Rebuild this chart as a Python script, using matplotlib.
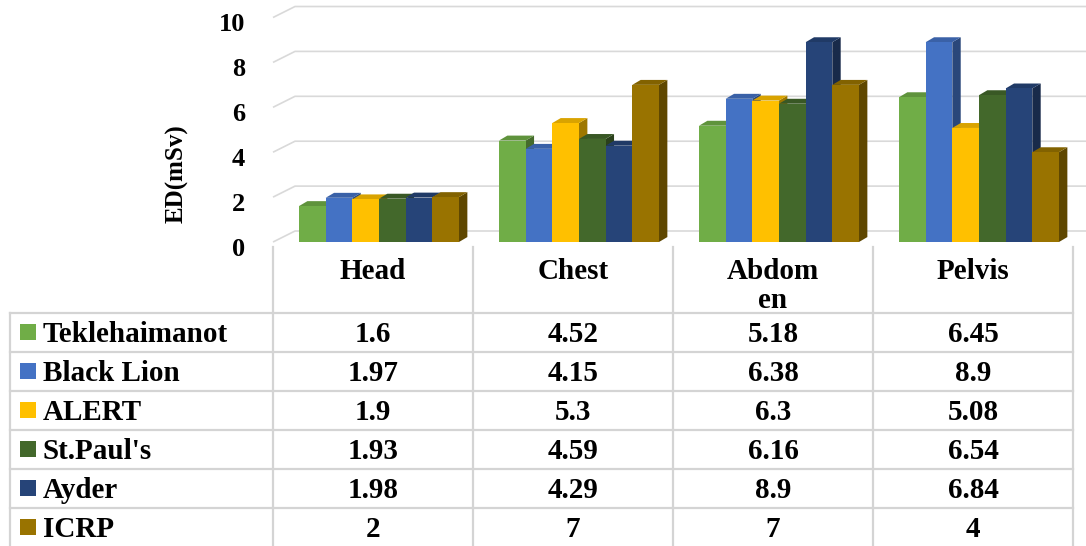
import matplotlib.pyplot as plt
from matplotlib.patches import Polygon, Rectangle
import matplotlib.colors as mcolors

categories = ["Head", "Chest", "Abdom\nen", "Pelvis"]
series = ["Teklehaimanot", "Black Lion", "ALERT", "St.Paul's", "Ayder", "ICRP"]
teklehaimanot = [1.6, 4.52, 5.18, 6.45]
black_lion = [1.97, 4.15, 6.38, 8.9]
alert = [1.9, 5.3, 6.3, 5.08]
st_pauls = [1.93, 4.59, 6.16, 6.54]
ayder = [1.98, 4.29, 8.9, 6.84]
icrp = [2, 7, 7, 4]
values = [teklehaimanot, black_lion, alert, st_pauls, ayder, icrp]
y_ticks = [0, 2, 4, 6, 8, 10]

colors = ["#70AD47", "#4472C4", "#FFC000", "#43682B", "#264478", "#997300"]

FONT = ["Liberation Serif", "DejaVu Serif"]


def shade(c, f):
    r, g, b = mcolors.to_rgb(c)
    return (r * f, g * f, b * f)


fig = plt.figure(figsize=(10.86, 5.46), dpi=100)

# chart axes: x in category units, y in value units (front plane)
ax = fig.add_axes([0, 0, 1, 1])
ax.set_xlim(-1.365, 4.065)
ax.set_ylim(-13.541, 10.78)
ax.axis("off")

# table axes: same x, y in row units (downwards)
tax = fig.add_axes([0, 0, 1, 1], sharex=ax)
tax.set_ylim(5.974, -8.026)
tax.axis("off")
tax.patch.set_alpha(0)

# side wall / back wall gridlines
wall_dx, wall_dy = 0.11, 0.49
grid_c = "#D9D9D9"
for v in y_ticks:
    ax.plot([0, wall_dx, 4.065], [v, v + wall_dy, v + wall_dy],
            color=grid_c, lw=1.2, zorder=1, solid_capstyle="butt")
    ax.text(-0.14, v - 0.62, str(v), ha="right", va="baseline",
            fontsize=19, fontweight="bold", family=FONT)

ax.text(-0.48, 3.03, "ED(mSv)", rotation=90, ha="center", va="center",
        fontsize=18, fontweight="bold", family=FONT)

# 3D-style clustered columns
bar_w = 0.1333
start = 0.13
bdx, bdy = 0.042, 0.22
for ci in range(len(categories)):
    for si, vals in enumerate(values):
        v = vals[ci]
        x0 = ci + start + si * bar_w
        x1 = x0 + bar_w
        c = colors[si]
        ax.add_patch(Polygon([(x1, 0), (x1 + bdx, bdy), (x1 + bdx, v + bdy), (x1, v)],
                             closed=True, facecolor=shade(c, 0.62), edgecolor="none", zorder=2))
        ax.add_patch(Polygon([(x0, v), (x0 + bdx, v + bdy), (x1 + bdx, v + bdy), (x1, v)],
                             closed=True, facecolor=shade(c, 0.85), edgecolor="none", zorder=2))
        ax.bar(x0, v, width=bar_w, align="edge", color=c, edgecolor="none", zorder=2)

# data table
line_c = "#D4D4D4"
lw = 1.6
label_left = -1.315
n_rows = len(series)
header_top = -1.692
for k in range(len(categories) + 1):
    tax.plot([k, k], [header_top, n_rows], color=line_c, lw=lw, zorder=1)
tax.plot([label_left, label_left], [0, n_rows], color=line_c, lw=lw, zorder=1)
for r in range(n_rows + 1):
    tax.plot([label_left, len(categories)], [r, r], color=line_c, lw=lw, zorder=1)

line_step = 29 / 39
for ci, cat in enumerate(categories):
    for li, part in enumerate(cat.split("\n")):
        tax.text(ci + 0.5, -0.872 + li * line_step, part, ha="center", va="baseline",
                 fontsize=21, fontweight="bold", family=FONT)

for si, name in enumerate(series):
    tax.add_patch(Rectangle((-1.265, si + 0.29), 0.08, 0.41, facecolor=colors[si],
                            edgecolor="none", zorder=2))
    tax.text(-1.15, si + 0.735, name, ha="left", va="baseline",
             fontsize=21, fontweight="bold", family=FONT)
    for ci in range(len(categories)):
        tax.text(ci + 0.5, si + 0.735, f"{values[si][ci]:g}", ha="center", va="baseline",
                 fontsize=21, fontweight="bold", family=FONT)

fig.savefig("out.png", dpi=100)
